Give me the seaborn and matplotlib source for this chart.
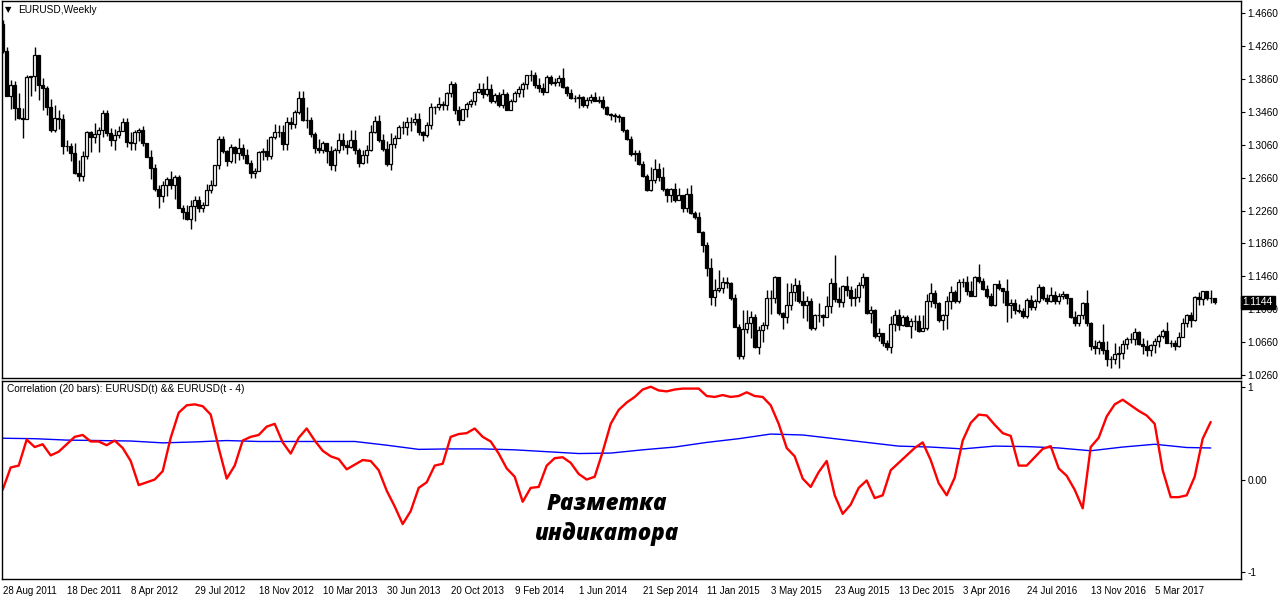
import numpy as np
import pandas as pd
import matplotlib
matplotlib.use('Agg')
import matplotlib.pyplot as plt
import seaborn as sns

# EURUSD weekly bars, one per week starting 28 Aug 2011
first_open = 1.4530

close_2011 = [1.4205, 1.3652, 1.3793, 1.3503, 1.3387, 1.3379, 1.3880, 1.3894, 1.4150, 1.3785,
              1.3753, 1.3522, 1.3238, 1.3384, 1.3380, 1.3043, 1.3045, 1.2961]
high_2011 = [1.4580, 1.4250, 1.3848, 1.3834, 1.3685, 1.3510, 1.3915, 1.3900, 1.4247, 1.4146,
             1.3875, 1.3780, 1.3615, 1.3548, 1.3487, 1.3435, 1.3118, 1.3086]
low_2011 = [1.4180, 1.3652, 1.3495, 1.3361, 1.3371, 1.3146, 1.3458, 1.3651, 1.3720, 1.3610,
            1.3484, 1.3420, 1.3213, 1.3210, 1.3252, 1.2946, 1.2989, 1.2858]

close_2012 = [1.2720, 1.2681, 1.2929, 1.3215, 1.3159, 1.3197, 1.3239, 1.3450, 1.3204, 1.3121,
              1.3175, 1.3233, 1.3341, 1.3100, 1.3077, 1.3216, 1.3240, 1.3081, 1.2915, 1.2780,
              1.2518, 1.2433, 1.2568, 1.2640, 1.2569, 1.2664, 1.2289, 1.2247, 1.2156, 1.2319,
              1.2387, 1.2289, 1.2333, 1.2515, 1.2577, 1.2818, 1.3131, 1.2979, 1.2860, 1.3039,
              1.2957, 1.3020, 1.2939, 1.2836, 1.2713, 1.2744, 1.2977, 1.2985, 1.2928, 1.3161,
              1.3217, 1.3218]
high_2012 = [1.3077, 1.2878, 1.2988, 1.3233, 1.3234, 1.3322, 1.3280, 1.3486, 1.3487, 1.3270,
             1.3250, 1.3290, 1.3386, 1.3384, 1.3212, 1.3235, 1.3263, 1.3283, 1.3085, 1.2994,
             1.2827, 1.2570, 1.2625, 1.2672, 1.2747, 1.2693, 1.2692, 1.2332, 1.2327, 1.2389,
             1.2443, 1.2443, 1.2366, 1.2589, 1.2637, 1.2820, 1.3170, 1.3172, 1.2996, 1.3074,
             1.3046, 1.3139, 1.3073, 1.3013, 1.2876, 1.2776, 1.2990, 1.3026, 1.3127, 1.3166,
             1.3309, 1.3299]
low_2012 = [1.2705, 1.2624, 1.2625, 1.2885, 1.2978, 1.3080, 1.2973, 1.3160, 1.3172, 1.3050,
            1.2997, 1.3141, 1.3240, 1.3033, 1.2994, 1.3003, 1.3107, 1.3050, 1.2913, 1.2641,
            1.2496, 1.2288, 1.2365, 1.2442, 1.2519, 1.2406, 1.2286, 1.2162, 1.2143, 1.2042,
            1.2133, 1.2240, 1.2240, 1.2322, 1.2477, 1.2563, 1.2769, 1.2958, 1.2802, 1.2842,
            1.2835, 1.2880, 1.2883, 1.2827, 1.2660, 1.2662, 1.2746, 1.2876, 1.2877, 1.2887,
            1.3132, 1.3157]

close_2013 = [1.3068, 1.3343, 1.3317, 1.3456, 1.3633, 1.3364, 1.3361, 1.3189, 1.3020, 1.3001,
              1.3078, 1.2987, 1.2819, 1.2997, 1.3113, 1.3053, 1.3029, 1.3114, 1.2993, 1.2836,
              1.2934, 1.3002, 1.3222, 1.3346, 1.3122, 1.3008, 1.2830, 1.3066, 1.3142, 1.3276,
              1.3279, 1.3342, 1.3332, 1.3378, 1.3218, 1.3176, 1.3297, 1.3525, 1.3523, 1.3556,
              1.3549, 1.3686, 1.3804, 1.3486, 1.3364, 1.3497, 1.3554, 1.3590, 1.3702, 1.3741,
              1.3677, 1.3740, 1.3589]
high_2013 = [1.3298, 1.3404, 1.3402, 1.3481, 1.3711, 1.3710, 1.3522, 1.3404, 1.3215, 1.3130,
             1.3106, 1.3046, 1.3050, 1.3019, 1.3200, 1.3203, 1.3120, 1.3243, 1.3241, 1.3018,
             1.3000, 1.3060, 1.3306, 1.3415, 1.3420, 1.3191, 1.3107, 1.3207, 1.3175, 1.3298,
             1.3345, 1.3401, 1.3399, 1.3452, 1.3452, 1.3233, 1.3342, 1.3568, 1.3538, 1.3646,
             1.3589, 1.3705, 1.3832, 1.3820, 1.3529, 1.3500, 1.3585, 1.3622, 1.3709, 1.3811,
             1.3810, 1.3893, 1.3800]
low_2013 = [1.2998, 1.3001, 1.3256, 1.3263, 1.3441, 1.3355, 1.3270, 1.3150, 1.2966, 1.2955,
            1.2966, 1.2843, 1.2750, 1.2745, 1.2955, 1.2993, 1.2952, 1.3020, 1.2950, 1.2796,
            1.2821, 1.2842, 1.2982, 1.3200, 1.3100, 1.2990, 1.2805, 1.2754, 1.3020, 1.3145,
            1.3187, 1.3183, 1.3225, 1.3300, 1.3180, 1.3105, 1.3153, 1.3253, 1.3440, 1.3478,
            1.3483, 1.3479, 1.3645, 1.3440, 1.3296, 1.3357, 1.3401, 1.3520, 1.3543, 1.3687,
            1.3624, 1.3656, 1.3573]

close_2014 = [1.3669, 1.3539, 1.3677, 1.3488, 1.3598, 1.3692, 1.3740, 1.3805, 1.3912, 1.3914,
              1.3789, 1.3751, 1.3705, 1.3885, 1.3815, 1.3830, 1.3872, 1.3758, 1.3695, 1.3634,
              1.3633, 1.3642, 1.3545, 1.3608, 1.3645, 1.3593, 1.3601, 1.3523, 1.3430, 1.3428,
              1.3414, 1.3398, 1.3238, 1.3130, 1.2950, 1.2965, 1.2830, 1.2685, 1.2515, 1.2630,
              1.2760, 1.2670, 1.2526, 1.2450, 1.2525, 1.2390, 1.2450, 1.2290, 1.2465, 1.2230,
              1.2185, 1.2000]
high_2014 = [1.3688, 1.3700, 1.3740, 1.3707, 1.3620, 1.3715, 1.3773, 1.3823, 1.3915, 1.3967,
             1.3946, 1.3877, 1.3809, 1.3906, 1.3905, 1.3876, 1.3905, 1.3993, 1.3775, 1.3734,
             1.3671, 1.3677, 1.3651, 1.3645, 1.3677, 1.3701, 1.3649, 1.3648, 1.3533, 1.3444,
             1.3444, 1.3435, 1.3389, 1.3250, 1.3170, 1.2995, 1.3000, 1.2860, 1.2700, 1.2790,
             1.2885, 1.2840, 1.2790, 1.2530, 1.2530, 1.2600, 1.2530, 1.2455, 1.2530, 1.2570,
             1.2250, 1.2245]
low_2014 = [1.3573, 1.3524, 1.3507, 1.3479, 1.3478, 1.3586, 1.3642, 1.3645, 1.3735, 1.3839,
            1.3750, 1.3705, 1.3672, 1.3705, 1.3793, 1.3780, 1.3775, 1.3748, 1.3648, 1.3616,
            1.3585, 1.3502, 1.3523, 1.3502, 1.3563, 1.3591, 1.3574, 1.3490, 1.3421, 1.3366,
            1.3332, 1.3335, 1.3218, 1.3116, 1.2920, 1.2860, 1.2815, 1.2670, 1.2500, 1.2500,
            1.2600, 1.2615, 1.2500, 1.2360, 1.2360, 1.2360, 1.2400, 1.2245, 1.2245, 1.2220,
            1.2160, 1.2000]

close_2015 = [1.1840, 1.1565, 1.1205, 1.1290, 1.1315, 1.1390, 1.1380, 1.1195, 1.0845, 1.0495,
              1.0820, 1.0890, 1.0970, 1.0600, 1.0810, 1.0870, 1.1200, 1.1200, 1.1450, 1.1015,
              1.0960, 1.1110, 1.1265, 1.1350, 1.1165, 1.1110, 1.1160, 1.0830, 1.0985, 1.0985,
              1.0970, 1.1100, 1.1385, 1.1180, 1.1150, 1.1340, 1.1300, 1.1195, 1.1210, 1.1360,
              1.1450, 1.1015, 1.1045, 1.0740, 1.0765, 1.0645, 1.0595, 1.0885, 1.0990, 1.0865,
              1.0965, 1.0860]
high_2015 = [1.2010, 1.1880, 1.1680, 1.1425, 1.1535, 1.1450, 1.1450, 1.1390, 1.1245, 1.0885,
             1.1045, 1.1050, 1.1035, 1.1000, 1.0850, 1.0900, 1.1290, 1.1290, 1.1465, 1.1440,
             1.1030, 1.1385, 1.1385, 1.1435, 1.1410, 1.1280, 1.1215, 1.1200, 1.1000, 1.1130,
             1.1000, 1.1215, 1.1435, 1.1715, 1.1330, 1.1360, 1.1460, 1.1340, 1.1320, 1.1390,
             1.1495, 1.1390, 1.1095, 1.1060, 1.0830, 1.0760, 1.0680, 1.0980, 1.1045, 1.1060,
             1.0990, 1.0995]
low_2015 = [1.1755, 1.1460, 1.1115, 1.1100, 1.1270, 1.1260, 1.1315, 1.1175, 1.0840, 1.0460,
            1.0460, 1.0770, 1.0710, 1.0585, 1.0520, 1.0660, 1.0820, 1.1000, 1.1140, 1.0990,
            1.0820, 1.0890, 1.1050, 1.1160, 1.1135, 1.0955, 1.0915, 1.0810, 1.0810, 1.0905,
            1.0850, 1.0960, 1.1020, 1.1150, 1.1090, 1.1085, 1.1215, 1.1105, 1.1100, 1.1150,
            1.1320, 1.1000, 1.0895, 1.0705, 1.0675, 1.0615, 1.0565, 1.0525, 1.0800, 1.0805,
            1.0850, 1.0850]

close_2016 = [1.0920, 1.0915, 1.0795, 1.0830, 1.1160, 1.1255, 1.1130, 1.0930, 1.0995, 1.1155,
              1.1270, 1.1165, 1.1390, 1.1395, 1.1285, 1.1225, 1.1455, 1.1400, 1.1310, 1.1225,
              1.1110, 1.1365, 1.1315, 1.1280, 1.1115, 1.1135, 1.1050, 1.1040, 1.0975, 1.1175,
              1.1090, 1.1165, 1.1325, 1.1195, 1.1155, 1.1235, 1.1155, 1.1225, 1.1240, 1.1200,
              1.0970, 1.0890, 1.0985, 1.1140, 1.0890, 1.0610, 1.0590, 1.0660, 1.0560, 1.0450,
              1.0455, 1.0520]
high_2016 = [1.0955, 1.0990, 1.0990, 1.0985, 1.1240, 1.1375, 1.1290, 1.1150, 1.1000, 1.1215,
             1.1340, 1.1300, 1.1430, 1.1440, 1.1465, 1.1400, 1.1460, 1.1615, 1.1445, 1.1350,
             1.1260, 1.1370, 1.1415, 1.1300, 1.1425, 1.1185, 1.1185, 1.1125, 1.1080, 1.1195,
             1.1235, 1.1185, 1.1365, 1.1340, 1.1240, 1.1330, 1.1285, 1.1255, 1.1280, 1.1250,
             1.1200, 1.1040, 1.0990, 1.1145, 1.1300, 1.0910, 1.0690, 1.0690, 1.0875, 1.0670,
             1.0490, 1.0650]
low_2016 = [1.0710, 1.0810, 1.0780, 1.0810, 1.0810, 1.1090, 1.1070, 1.0910, 1.0810, 1.0820,
            1.1060, 1.1140, 1.1140, 1.1325, 1.1235, 1.1215, 1.1220, 1.1385, 1.1295, 1.1200,
            1.1095, 1.1105, 1.1300, 1.1130, 1.0910, 1.0950, 1.1000, 1.1020, 1.0950, 1.0950,
            1.1045, 1.1050, 1.1140, 1.1170, 1.1125, 1.1150, 1.1120, 1.1120, 1.1180, 1.1120,
            1.0950, 1.0860, 1.0855, 1.0940, 1.0855, 1.0570, 1.0520, 1.0520, 1.0510, 1.0365,
            1.0350, 1.0395]

close_2017 = [1.0530, 1.0640, 1.0700, 1.0700, 1.0780, 1.0640, 1.0615, 1.0560, 1.0620, 1.0670,
              1.0735, 1.0800, 1.0650, 1.0645, 1.0615, 1.0725, 1.0895, 1.0995, 1.0935, 1.1205,
              1.1185, 1.1280, 1.1195, 1.1200, 1.1144]
high_2017 = [1.0615, 1.0685, 1.0720, 1.0775, 1.0830, 1.0800, 1.0715, 1.0680, 1.0635, 1.0710,
             1.0760, 1.0825, 1.0905, 1.0690, 1.0680, 1.0780, 1.0950, 1.1000, 1.1025, 1.1215,
             1.1265, 1.1285, 1.1285, 1.1295, 1.1200]
low_2017 = [1.0340, 1.0455, 1.0580, 1.0655, 1.0620, 1.0620, 1.0520, 1.0495, 1.0495, 1.0525,
            1.0600, 1.0705, 1.0650, 1.0605, 1.0570, 1.0605, 1.0770, 1.0840, 1.0840, 1.0920,
            1.1110, 1.1110, 1.1170, 1.1130, 1.1120]

last_price = 1.1144

# Correlation indicator, read every 2nd bar (red) and every 8th bar (blue)
corr_red = [-0.11, 0.13, 0.15, 0.43, 0.35, 0.38, 0.26, 0.30, 0.38, 0.46,
            0.48, 0.41, 0.41, 0.37, 0.42, 0.34, 0.20, -0.06, -0.03, 0.00,
            0.09, 0.45, 0.72, 0.80, 0.81, 0.79, 0.70, 0.34, 0.01, 0.15,
            0.42, 0.46, 0.48, 0.57, 0.60, 0.40, 0.28, 0.45, 0.55, 0.42,
            0.31, 0.25, 0.22, 0.11, 0.16, 0.21, 0.20, 0.10, -0.12, -0.29,
            -0.48, -0.34, -0.09, -0.03, 0.15, 0.17, 0.46, 0.49, 0.50, 0.55,
            0.46, 0.41, 0.28, 0.12, 0.03, -0.24, -0.09, -0.08, 0.15, 0.23,
            0.24, 0.18, 0.06, 0.00, 0.03, 0.30, 0.60, 0.75, 0.83, 0.89,
            0.97, 1.00, 0.96, 0.95, 0.97, 0.98, 0.98, 0.98, 0.90, 0.89,
            0.91, 0.89, 0.90, 0.94, 0.90, 0.89, 0.80, 0.60, 0.34, 0.25,
            0.01, -0.08, 0.08, 0.20, -0.17, -0.37, -0.27, -0.09, -0.01, -0.20,
            -0.17, 0.10, 0.18, 0.26, 0.34, 0.40, 0.21, -0.04, -0.17, 0.02,
            0.42, 0.61, 0.70, 0.69, 0.59, 0.50, 0.47, 0.15, 0.15, 0.24,
            0.33, 0.36, 0.12, 0.04, -0.11, -0.31, 0.35, 0.45, 0.68, 0.81,
            0.86, 0.80, 0.74, 0.69, 0.60, 0.10, -0.19, -0.19, -0.17, 0.03,
            0.44, 0.62]
corr_blue = [0.445, 0.44, 0.425, 0.42, 0.415, 0.395, 0.405, 0.42, 0.41, 0.41,
             0.41, 0.41, 0.37, 0.325, 0.33, 0.33, 0.32, 0.30, 0.28, 0.285,
             0.32, 0.35, 0.40, 0.44, 0.49, 0.48, 0.44, 0.40, 0.36, 0.35,
             0.33, 0.36, 0.355, 0.34, 0.31, 0.35, 0.38, 0.345, 0.34]

date_labels = ['28 Aug 2011', '18 Dec 2011', '8 Apr 2012', '29 Jul 2012', '18 Nov 2012',
               '10 Mar 2013', '30 Jun 2013', '20 Oct 2013', '9 Feb 2014', '1 Jun 2014',
               '21 Sep 2014', '11 Jan 2015', '3 May 2015', '23 Aug 2015', '13 Dec 2015',
               '3 Apr 2016', '24 Jul 2016', '13 Nov 2016', '5 Mar 2017']

price_ticks = [1.0260, 1.0660, 1.1060, 1.1460, 1.1860, 1.2260, 1.2660,
               1.3060, 1.3460, 1.3860, 1.4260, 1.4660]

# ---- build the bar table
closes = close_2011 + close_2012 + close_2013 + close_2014 + close_2015 + close_2016 + close_2017
highs = high_2011 + high_2012 + high_2013 + high_2014 + high_2015 + high_2016 + high_2017
lows = low_2011 + low_2012 + low_2013 + low_2014 + low_2015 + low_2016 + low_2017
bars = pd.DataFrame({'close': closes, 'high': highs, 'low': lows})
bars['open'] = bars['close'].shift(1).fillna(first_open)
bars['idx'] = np.arange(len(bars))

red_df = pd.DataFrame({'idx': np.arange(0, 2 * len(corr_red), 2), 'value': corr_red})
blue_idx = list(range(0, 8 * (len(corr_blue) - 1), 8)) + [len(bars) - 2]
blue_df = pd.DataFrame({'idx': blue_idx, 'value': corr_blue})

# ---- figure
sns.set_style('white')
plt.rcParams['font.family'] = ['Liberation Sans', 'DejaVu Sans']
plt.rcParams['text.color'] = 'black'
plt.rcParams['xtick.color'] = 'black'
plt.rcParams['ytick.color'] = 'black'
plt.rcParams['axes.labelcolor'] = 'black'

W, H = 1280, 600
fig = plt.figure(figsize=(12.8, 6), dpi=100)
left = 2 / W
width = (1240.7 - 2) / W
ax = fig.add_axes([left, 1 - 378.3 / H, width, 377.8 / H])
ax2 = fig.add_axes([left, 1 - 579 / H, width, 198.3 / H])

x0 = (2 - 2.7) / 4
x1 = (1240.7 - 2.7) / 4

# candles
up = bars['close'] >= bars['open']
ax.vlines(bars['idx'], bars['low'], bars['high'], color='black', lw=1.0, zorder=2)
body_lo = np.minimum(bars['open'], bars['close'])
body_h = (bars['close'] - bars['open']).abs()
ax.bar(bars['idx'][up], body_h[up], bottom=body_lo[up], width=0.62,
       color='white', edgecolor='black', linewidth=0.9, zorder=3)
ax.bar(bars['idx'][~up], body_h[~up], bottom=body_lo[~up], width=0.62,
       color='black', edgecolor='black', linewidth=0.9, zorder=3)

ax.set_xlim(x0, x1)
ax.set_ylim(1.4660 - 365 * 0.0012165, 1.4660 + 12.8 * 0.0012165)
ax.yaxis.tick_right()
ax.set_yticks(price_ticks)
ax.set_yticklabels([f'{v:.4f}' for v in price_ticks])
ax.set_xticks([])
ax.tick_params(axis='y', direction='out', length=3, width=0.8, labelsize=7.3, pad=2,
               colors='black')
ax.text(1.0015, last_price, f'{last_price:.4f}', transform=ax.get_yaxis_transform(),
        ha='left', va='center', fontsize=7.3, color='white',
        bbox=dict(boxstyle='square,pad=0.18', fc='black', ec='black'))
fig.text(5 / W, 1 - 9.5 / H, '\u25bc', fontsize=6, family='DejaVu Sans', va='center',
         color='black')
fig.text(18 / W, 1 - 10 / H, 'EURUSD,Weekly', fontsize=7.3, va='center', color='black')

# indicator
sns.lineplot(data=blue_df, x='idx', y='value', ax=ax2, color='#0000ff', lw=1.0,
             estimator=None, sort=False)
sns.lineplot(data=red_df, x='idx', y='value', ax=ax2, color='#ff0000', lw=1.7,
             estimator=None, sort=False)
ax2.set_xlim(x0, x1)
ax2.set_ylim(-1.072, 1.065)
ax2.yaxis.tick_right()
ax2.set_yticks([1, 0, -1])
ax2.set_yticklabels(['1', '0.00', '-1'])
ax2.set_xticks(np.arange(0, 16 * len(date_labels), 16))
ax2.set_xticklabels(date_labels, ha='left')
ax2.set_xlabel('')
ax2.set_ylabel('')
ax2.tick_params(axis='both', direction='out', length=3, width=0.8, labelsize=7.0, pad=2,
                colors='black')
ax2.tick_params(axis='y', labelsize=7.3)
ax2.text(0.004, 0.985, 'Correlation (20 bars): EURUSD(t) && EURUSD(t - 4)',
         transform=ax2.transAxes, ha='left', va='top', fontsize=7.3, color='black')

for a in (ax, ax2):
    for s in a.spines.values():
        s.set_color('black')
        s.set_linewidth(1.0)

fig.text(607 / W, 1 - 519 / H, 'Разметка\nиндикатора', ha='center', va='center',
         fontsize=16, fontweight='heavy', fontstyle='italic', color='black',
         family=['Open Sans', 'DejaVu Sans'], linespacing=1.35)

fig.savefig('out.png', dpi=100)
